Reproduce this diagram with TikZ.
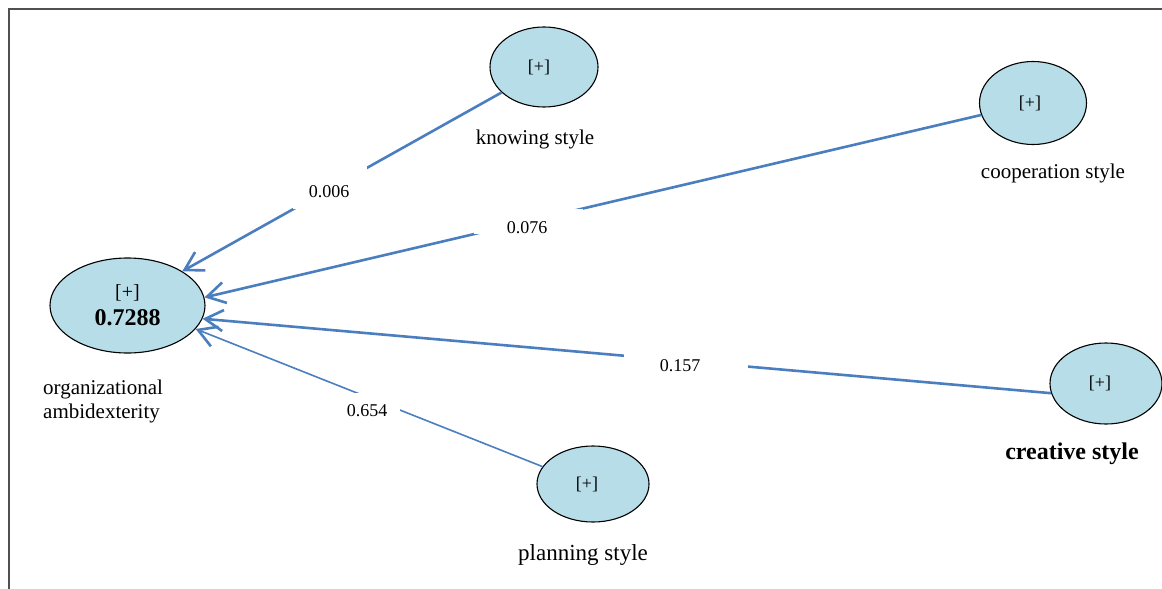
\documentclass[tikz,border=0pt]{standalone}
\usepackage{fontspec}
\setmainfont{Liberation Serif}
\usetikzlibrary{arrows.meta,shapes.geometric}
\definecolor{lvfill}{HTML}{B7DDE8}
\definecolor{pathblue}{HTML}{4A7EBF}
\definecolor{framegray}{HTML}{505050}
\tikzset{
  lv/.style={ellipse, draw=black, line width=1.1pt, fill=lvfill, inner sep=0pt},
  lvtext/.style={font=\fontsize{18}{20}\selectfont},
  captxt/.style={font=\fontsize{21}{24}\selectfont, inner sep=0pt},
  coef/.style={font=\fontsize{18}{20}\selectfont, inner sep=0pt},
  gapbox/.style={fill=white, inner sep=0pt},
  pathline/.style={draw=pathblue, line width=2.6pt, -{Straight Barb[length=18pt,width=21pt,line width=2.6pt]}},
}
\begin{document}
\begin{tikzpicture}[x=1pt,y=-1pt]
\useasboundingbox (0,0) rectangle (1162,589);
% frame
\draw[framegray, line width=2pt] (1162,9) -- (9,9) -- (9,589);
% latent variables
\node[lv, minimum width=155, minimum height=95, align=center, font=\fontsize{20}{27}\selectfont] (OA) at (127.5,305.5)
  {[+]\\{\fontsize{24}{27}\selectfont\bfseries 0.7288}};
\node[lv, lvtext, minimum width=108, minimum height=80] (KS) at (544,67) {[+]\kern10pt\relax};
\node[lv, lvtext, minimum width=107, minimum height=83] (CS) at (1033,103) {[+]\kern6pt\relax};
\node[lv, lvtext, minimum width=112, minimum height=81] (CR) at (1106,383.5) {[+]\kern12pt\relax};
\node[lv, lvtext, minimum width=112, minimum height=76] (PS) at (593,484) {[+]\kern12pt\relax};
% captions
\node[captxt] (KSl) at (535,139) {knowing style};
\node[captxt] (CSl) at (1053,173) {cooperation style};
\node[captxt, font=\fontsize{24}{26}\selectfont\bfseries] (CRl) at (1072,454) {creative style};
\node[captxt, font=\fontsize{23}{26}\selectfont] (PSl) at (583,555) {planning style};
\node[captxt, anchor=west, align=left] (OAl) at (43,401) {organizational\\ambidexterity};
% paths
\draw[pathline] (KS.211) -- (OA.32);
\draw[pathline] (CS.193) -- (OA.6);
\draw[pathline] (CR.190) -- (OA.-10);
\draw[pathline, line width=1.6pt] (PS.161) -- (OA.-19);
% gaps behind coefficients
\node[gapbox, minimum width=74, minimum height=43] (g1) at (330,187.5) {};
\node[gapbox, minimum width=109, minimum height=25] (g2) at (528.5,221.5) {};
\node[gapbox, minimum width=124, minimum height=14] (g3) at (686,360.5) {};
\node[gapbox, minimum width=55, minimum height=21] (g4) at (372.5,403) {};
% coefficients
\node[coef] (c1) at (329,192) {0.006};
\node[coef] (c2) at (527,228) {0.076};
\node[coef] (c3) at (680,366) {0.157};
\node[coef] (c4) at (367,411) {0.654};
\end{tikzpicture}
\end{document}
